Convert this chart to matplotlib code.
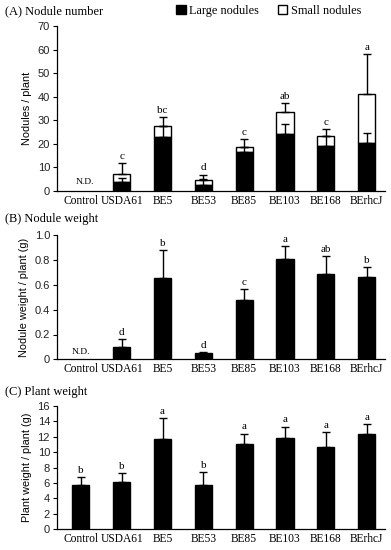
import matplotlib
matplotlib.use("Agg")
import matplotlib.pyplot as plt
from matplotlib.patches import Patch
import numpy as np

strains = ["Control", "USDA61", "BE5", "BE53", "BE85", "BE103", "BE168", "BErhcJ"]

# (A) Nodule number
large_nod = [0, 3.8, 23.0, 2.4, 16.6, 24.0, 19.2, 20.3]
large_err = [0, 1.7, 4.7, 2.5, 2.2, 4.5, 4.1, 4.2]
total_nod = [0, 7.3, 27.7, 4.6, 18.8, 33.5, 23.3, 41.3]
total_err = [0, 4.4, 3.8, 2.4, 3.1, 3.8, 3.1, 16.7]
letters_a = ["", "c", "bc", "d", "c", "ab", "c", "a"]

# (B) Nodule weight
nod_wt = [0, 0.097, 0.653, 0.05, 0.48, 0.806, 0.685, 0.66]
nod_wt_err = [0, 0.067, 0.231, 0.006, 0.085, 0.105, 0.145, 0.087]
letters_b = ["", "d", "b", "d", "c", "a", "ab", "b"]

# (C) Plant weight
plant_wt = [5.77, 6.08, 11.72, 5.77, 11.07, 11.85, 10.6, 12.3]
plant_wt_err = [1.0, 1.16, 2.68, 1.64, 1.33, 1.45, 1.95, 1.36]
letters_c = ["b", "b", "a", "b", "a", "a", "a", "a"]

serif = "Liberation Serif"
sans = "Liberation Sans"

fig = plt.figure(figsize=(3.91, 5.5), dpi=100)
left, width = 57 / 391, (385 - 57) / 391
axA = fig.add_axes([left, 1 - 191 / 550, width, (191 - 26) / 550])
axB = fig.add_axes([left, 1 - 359.3 / 550, width, (359.3 - 235.3) / 550])
axC = fig.add_axes([left, 1 - 529.3 / 550, width, (529.3 - 405.7) / 550])

x = np.arange(len(strains))
bw = 0.42
ekw = dict(elinewidth=1.0, capthick=1.0)


def style(ax, ylim, yticks, ylabel, fmt):
    ax.set_xlim(-0.585, 7.45)
    ax.set_ylim(*ylim)
    ax.set_yticks(yticks)
    ax.set_yticklabels([fmt(t) for t in yticks], fontsize=8, family=sans, color="#222222")
    ax.set_xticks(x)
    ax.set_xticklabels(strains, fontsize=8.3, family=serif)
    ax.tick_params(axis="x", length=0, pad=3)
    ax.tick_params(axis="y", length=3, width=0.8, pad=2)
    for s in ["top", "right"]:
        ax.spines[s].set_visible(False)
    for s in ["left", "bottom"]:
        ax.spines[s].set_linewidth(0.9)
    ax.set_ylabel(ylabel, fontsize=7.8, family=sans, labelpad=4)


def letters(ax, tops, labs):
    for xi, t, l in zip(x, tops, labs):
        if l:
            ax.annotate(l, (xi, t), xytext=(0, 1.5), textcoords="offset points",
                        ha="center", va="bottom", fontsize=8, family=serif)


# Panel A
small_part = [t - l for t, l in zip(total_nod, large_nod)]
mask = np.array(total_nod) > 0
axA.bar(x[mask], np.array(small_part)[mask], bw, bottom=np.array(large_nod)[mask],
        color="white", edgecolor="black", linewidth=1.0, zorder=2,
        yerr=[np.zeros(mask.sum()), np.array(total_err)[mask]], capsize=3, error_kw=ekw)
axA.bar(x[mask], np.array(large_nod)[mask], bw, color="black", edgecolor="black",
        linewidth=1.0, zorder=3)
axA.errorbar(x[mask], np.array(large_nod)[mask],
             yerr=[np.zeros(mask.sum()), np.array(large_err)[mask]],
             fmt="none", ecolor="black", capsize=3, zorder=4, **ekw)
style(axA, (0, 70), list(range(0, 71, 10)), "Nodules / plant", lambda t: f"{t:d}")
letters(axA, [t + e for t, e in zip(total_nod, total_err)], letters_a)
axA.text(0.1, 2.0, "N.D.", ha="center", va="bottom", fontsize=6.8, family=serif)

# Panel B
maskB = np.array(nod_wt) > 0
axB.bar(x[maskB], np.array(nod_wt)[maskB], bw, color="black", edgecolor="black", linewidth=1.0,
        yerr=[np.zeros(maskB.sum()), np.array(nod_wt_err)[maskB]], capsize=3, error_kw=ekw)
style(axB, (0, 1.0), [0, 0.2, 0.4, 0.6, 0.8, 1.0], "Nodule weight / plant (g)",
      lambda t: "0" if t == 0 else f"{t:.1f}")
letters(axB, [t + e for t, e in zip(nod_wt, nod_wt_err)], letters_b)
axB.text(0.0, 0.03, "N.D.", ha="center", va="bottom", fontsize=6.8, family=serif)

# Panel C
axC.bar(x, plant_wt, bw, color="black", edgecolor="black", linewidth=1.0,
        yerr=[np.zeros(len(x)), plant_wt_err], capsize=3, error_kw=ekw)
style(axC, (0, 16), list(range(0, 17, 2)), "Plant weight / plant (g)", lambda t: f"{t:d}")
letters(axC, [t + e for t, e in zip(plant_wt, plant_wt_err)], letters_c)

# Panel titles
fig.text(5 / 391, 1 - 11 / 550, "(A) Nodule number", fontsize=9, family=serif, va="center")
fig.text(5 / 391, 1 - 219 / 550, "(B) Nodule weight", fontsize=9, family=serif, va="center")
fig.text(5 / 391, 1 - 392 / 550, "(C) Plant weight", fontsize=9, family=serif, va="center")

handles = [Patch(facecolor="black", edgecolor="black", label="Large nodules"),
           Patch(facecolor="white", edgecolor="black", label="Small nodules")]
fig.legend(handles=handles, loc="center left", bbox_to_anchor=(176 / 391, 1 - 11 / 550),
           ncol=2, frameon=False, handlelength=0.8, handleheight=0.8, handletextpad=0.3,
           columnspacing=1.5, borderaxespad=0, borderpad=0,
           prop={"family": serif, "size": 8.8})

fig.savefig("out.png", dpi=100)
